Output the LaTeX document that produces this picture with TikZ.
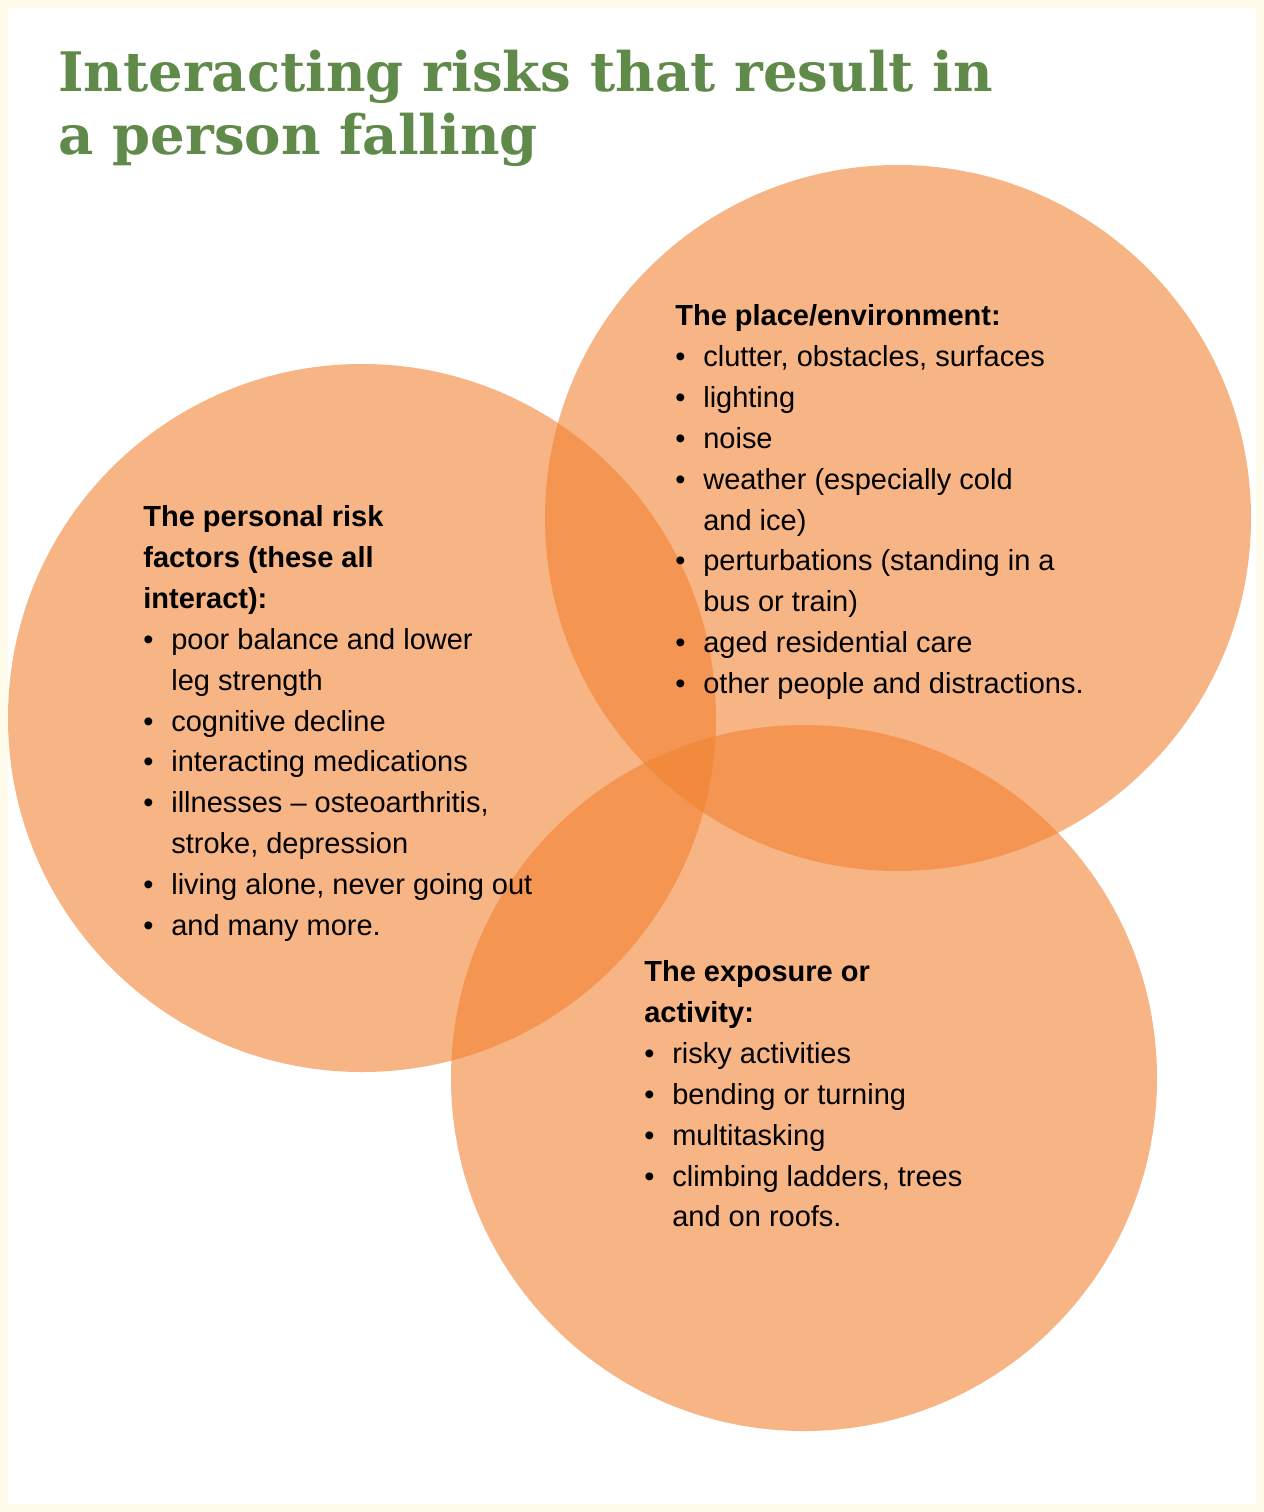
\documentclass[tikz,border=0pt]{standalone}
\usepackage{fontspec}
\setmainfont{Liberation Sans}
\newfontfamily\titlefont{DejaVu Serif}
\definecolor{cream}{RGB}{255,251,234}
\definecolor{ttl}{RGB}{96,138,74}
\definecolor{orng}{RGB}{242,130,50}
\newcommand{\bl}[1]{\makebox[0.56cm][l]{•}#1}
\newcommand{\cn}[1]{\makebox[0.56cm][l]{}#1}
\begin{document}
\begin{tikzpicture}[x=0.02cm,y=-0.02cm,
  circ/.style={fill=orng,fill opacity=0.6,draw=none},
  txt/.style={anchor=north west,inner sep=0pt,align=left,font=\fontsize{16.5pt}{23.3pt}\selectfont}]
\fill[cream] (0,0) rectangle (1264,1512);
\fill[white] (8,8) rectangle (1256,1504);
\useasboundingbox (0,0) rectangle (1264,1512);
\node[anchor=north west,inner sep=0pt,align=left,text=ttl,font=\titlefont\bfseries\fontsize{31pt}{35.5pt}\selectfont] (title) at (58,50) {Interacting risks that result in\\a person falling};
\path[circ] (362,718) circle (354);
\path[circ] (898,518) circle (353);
\path[circ] (804,1078) circle (353);
\node[txt] (left) at (143,505) {\textbf{The personal risk}\\\textbf{factors (these all}\\\textbf{interact):}\\
\bl{poor balance and lower}\\\cn{leg strength}\\\bl{cognitive decline}\\\bl{interacting medications}\\\bl{illnesses – osteoarthritis,}\\\cn{stroke, depression}\\\bl{living alone, never going out}\\\bl{and many more.}};
\node[txt] (right) at (675,304) {\textbf{The place/environment:}\\
\bl{clutter, obstacles, surfaces}\\\bl{lighting}\\\bl{noise}\\\bl{weather (especially cold}\\\cn{and ice)}\\\bl{perturbations (standing in a}\\\cn{bus or train)}\\\bl{aged residential care}\\\bl{other people and distractions.}};
\node[txt] (bottom) at (644,960) {\textbf{The exposure or}\\\textbf{activity:}\\
\bl{risky activities}\\\bl{bending or turning}\\\bl{multitasking}\\\bl{climbing ladders, trees}\\\cn{and on roofs.}};
\end{tikzpicture}
\end{document}
